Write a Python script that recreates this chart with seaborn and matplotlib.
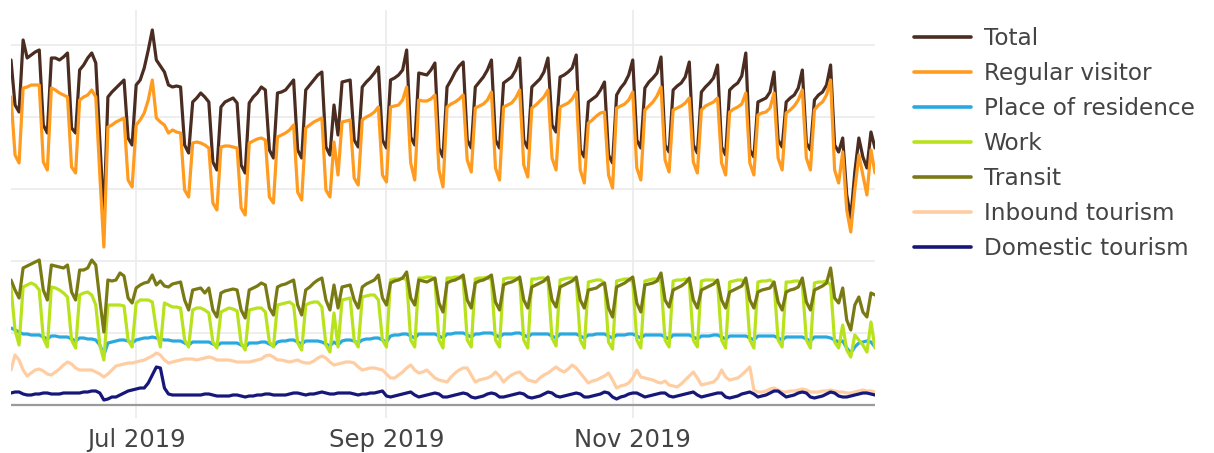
import matplotlib
matplotlib.use("Agg")
import matplotlib.pyplot as plt
from matplotlib.lines import Line2D
import numpy as np
import pandas as pd
import seaborn as sns

# Daily values, 2019-05-31 .. 2019-12-31 (index units, gridline step = 72)
start_date = "2019-05-31"
end_date = "2019-12-31"

total = [
    345, 300, 293,
    365, 347, 350, 353, 355, 280, 272,
    347, 347, 345, 348, 352, 277, 272,
    335, 340, 347, 352, 342, 265, 187,
    308, 313, 317, 321, 325, 267, 260,
    320, 325, 337, 355, 375, 345, 339,
    333, 320, 318, 319, 318, 260, 252,
    303, 307, 312, 308, 303, 243, 235,
    298, 303, 305, 307, 302, 240, 232,
    302, 308, 312, 318, 315, 255, 247,
    312, 313, 315, 320, 325, 255, 247,
    315, 320, 325, 330, 333, 258, 250,
    300, 270, 323, 324, 325, 265, 258,
    318, 323, 327, 332, 338, 265, 257,
    325, 327, 330, 335, 355, 268, 260,
    332, 331, 330, 335, 342, 257, 248,
    318, 325, 333, 339, 343, 265, 257,
    318, 323, 328, 335, 345, 265, 257,
    322, 325, 328, 335, 347, 265, 257,
    318, 322, 326, 333, 347, 280, 273,
    328, 330, 333, 337, 350, 255, 248,
    303, 306, 309, 315, 323, 250, 242,
    310, 317, 322, 330, 345, 265, 257,
    317, 323, 327, 332, 348, 260, 253,
    315, 319, 322, 328, 343, 260, 252,
    313, 318, 322, 327, 340, 258, 250,
    315, 319, 322, 329, 352, 255, 248,
    303, 305, 307, 313, 333, 265, 258,
    303, 307, 310, 317, 335, 262, 255,
    305, 310, 313, 320, 340, 260, 253,
    267, 210, 187, 233, 267, 248, 237,
    273, 257,
]

regular_visitor = [
    308, 250, 242,
    317, 318, 320, 320, 320, 243, 235,
    317, 315, 312, 310, 308, 238, 232,
    305, 308, 310, 315, 308, 230, 158,
    278, 280, 283, 285, 287, 225, 218,
    280, 285, 292, 305, 325, 287, 283,
    280, 272, 275, 273, 272, 215, 208,
    262, 263, 262, 260, 257, 202, 195,
    258, 259, 259, 258, 257, 197, 190,
    262, 264, 266, 267, 265, 208, 202,
    268, 270, 272, 275, 280, 213, 205,
    277, 280, 283, 285, 287, 215, 208,
    263, 230, 283, 284, 285, 227, 220,
    285, 288, 290, 293, 298, 230, 223,
    298, 299, 300, 305, 318, 242, 225,
    305, 304, 304, 306, 310, 235, 218,
    298, 301, 303, 306, 310, 245, 233,
    297, 299, 301, 305, 313, 237, 225,
    298, 300, 302, 307, 315, 240, 228,
    297, 300, 304, 308, 315, 247, 235,
    298, 300, 302, 306, 313, 235, 222,
    282, 285, 289, 292, 293, 230, 217,
    297, 299, 301, 305, 313, 237, 225,
    295, 299, 303, 309, 318, 245, 233,
    295, 297, 299, 302, 307, 243, 232,
    295, 299, 301, 303, 307, 242, 230,
    293, 296, 298, 301, 312, 242, 230,
    290, 292, 293, 297, 312, 247, 235,
    292, 295, 299, 305, 315, 247, 235,
    295, 300, 303, 310, 325, 235, 222,
    253, 195, 173, 215, 250, 230, 210,
    255, 232,
]

place_of_residence = [
    77, 75, 73,
    71, 71, 70, 70, 70, 68, 66,
    69, 69, 68, 68, 68, 66, 64,
    67, 67, 66, 66, 65, 60, 50,
    62, 63, 64, 65, 65, 64, 62,
    65, 66, 67, 67, 68, 67, 66,
    65, 65, 64, 64, 64, 62, 60,
    63, 63, 63, 63, 63, 61, 59,
    62, 62, 62, 62, 62, 60, 58,
    62, 62, 62, 63, 63, 61, 59,
    63, 64, 64, 65, 65, 63, 61,
    64, 64, 64, 64, 63, 61, 59,
    63, 60, 64, 65, 65, 64, 62,
    65, 66, 66, 67, 67, 65, 63,
    69, 70, 70, 71, 71, 69, 67,
    71, 71, 71, 71, 71, 69, 67,
    71, 71, 72, 72, 72, 70, 68,
    71, 71, 72, 72, 72, 70, 68,
    71, 71, 71, 72, 72, 70, 68,
    71, 71, 71, 71, 71, 69, 67,
    71, 71, 71, 71, 71, 69, 67,
    70, 70, 71, 71, 71, 69, 67,
    70, 70, 70, 71, 71, 69, 67,
    70, 70, 70, 70, 70, 68, 66,
    70, 70, 70, 70, 70, 68, 66,
    69, 69, 69, 70, 70, 68, 66,
    69, 69, 69, 69, 69, 67, 65,
    69, 69, 69, 69, 69, 67, 65,
    68, 68, 68, 68, 68, 66, 64,
    68, 68, 68, 68, 67, 65, 63,
    64, 57, 52, 58, 62, 63, 64,
    63, 58,
]

work = [
    118, 75, 60,
    118, 120, 122, 120, 115, 67, 58,
    118, 117, 115, 112, 108, 65, 57,
    110, 112, 113, 110, 100, 60, 45,
    100, 100, 100, 100, 99, 65, 58,
    102, 105, 105, 105, 103, 75, 58,
    102, 100, 98, 98, 97, 65, 58,
    95, 97, 97, 95, 92, 63, 57,
    93, 95, 97, 96, 94, 62, 55,
    95, 96, 97, 97, 93, 63, 58,
    100, 101, 102, 103, 100, 62, 55,
    100, 102, 103, 103, 98, 60, 53,
    92, 58, 105, 106, 107, 65, 58,
    108, 109, 110, 110, 105, 65, 58,
    125, 126, 126, 127, 125, 65, 58,
    127, 127, 128, 128, 126, 65, 57,
    127, 127, 128, 128, 126, 65, 58,
    126, 127, 127, 128, 125, 65, 58,
    126, 127, 127, 127, 125, 65, 57,
    126, 126, 127, 127, 125, 67, 59,
    125, 126, 127, 127, 124, 65, 57,
    123, 124, 125, 125, 122, 63, 56,
    124, 125, 126, 126, 123, 65, 57,
    124, 125, 126, 126, 123, 65, 58,
    124, 125, 125, 126, 123, 65, 58,
    124, 125, 125, 125, 123, 65, 57,
    123, 124, 125, 125, 122, 65, 57,
    123, 124, 124, 125, 122, 65, 58,
    123, 123, 124, 124, 121, 65, 57,
    122, 123, 123, 124, 120, 63, 57,
    80, 55, 48, 70, 65, 60, 53,
    83, 57,
]

transit = [
    125, 115, 107,
    137, 139, 141, 143, 145, 115, 105,
    140, 139, 138, 137, 140, 113, 105,
    135, 135, 137, 145, 140, 105, 73,
    125, 124, 125, 132, 129, 107, 102,
    117, 120, 122, 123, 130, 120, 124,
    119, 118, 121, 122, 123, 105, 95,
    115, 116, 117, 112, 117, 95, 88,
    112, 114, 115, 116, 115, 95, 87,
    115, 117, 119, 122, 120, 97, 90,
    118, 120, 121, 123, 125, 100, 90,
    115, 118, 122, 125, 127, 105, 95,
    120, 97, 118, 119, 120, 105, 97,
    118, 121, 123, 125, 130, 107, 100,
    122, 124, 125, 127, 133, 107, 100,
    125, 124, 123, 125, 127, 102, 93,
    122, 124, 125, 127, 130, 105, 97,
    122, 124, 125, 127, 130, 103, 95,
    120, 122, 123, 125, 128, 105, 97,
    118, 120, 122, 124, 128, 105, 98,
    118, 120, 122, 124, 128, 105, 97,
    115, 116, 117, 120, 122, 97, 88,
    118, 120, 122, 125, 128, 102, 93,
    120, 121, 122, 124, 132, 105, 98,
    115, 117, 119, 122, 127, 105, 97,
    115, 117, 119, 121, 125, 105, 97,
    113, 115, 117, 119, 127, 105, 97,
    113, 115, 116, 117, 123, 103, 95,
    113, 115, 116, 118, 127, 103, 95,
    115, 117, 119, 122, 137, 107, 102,
    117, 85, 75, 100, 108, 93, 88,
    112, 110,
]

inbound_tourism = [
    35, 50, 45,
    35, 29, 32, 35, 36, 34, 31,
    30, 33, 36, 40, 43, 41, 37,
    35, 35, 35, 35, 33, 31, 28,
    31, 35, 39, 40, 41, 42, 42,
    43, 44, 45, 47, 49, 52, 50,
    45, 42, 43, 44, 45, 46, 46,
    46, 45, 46, 47, 48, 47, 45,
    45, 45, 45, 44, 43, 43, 43,
    43, 44, 45, 46, 49, 50, 48,
    45, 45, 44, 43, 44, 45, 43,
    42, 42, 44, 47, 49, 47, 43,
    40, 41, 42, 43, 43, 42, 38,
    35, 36, 37, 37, 36, 35, 31,
    27, 27, 30, 33, 37, 40, 35,
    32, 33, 35, 31, 27, 25, 24,
    23, 28, 32, 35, 37, 37, 30,
    23, 25, 26, 27, 29, 33, 29,
    23, 27, 30, 32, 33, 29, 25,
    24, 23, 27, 30, 32, 35, 38,
    35, 33, 36, 40, 37, 32, 27,
    22, 24, 25, 27, 29, 32, 25,
    17, 19, 20, 22, 27, 35, 28,
    27, 26, 25, 23, 22, 24, 20,
    19, 18, 21, 25, 29, 33, 27,
    20, 21, 22, 23, 27, 35, 28,
    25, 26, 27, 30, 34, 38, 15,
    13, 13, 14, 16, 17, 15, 13,
    13, 14, 14, 15, 16, 15, 13,
    13, 13, 14, 14, 15, 14, 13,
    13, 12, 12, 13, 14, 15, 14,
    14, 13,
]

domestic_tourism = [
    12, 13, 13,
    11, 10, 10, 11, 11, 12, 12,
    11, 11, 11, 12, 12, 12, 12,
    12, 13, 13, 14, 14, 12, 5,
    6, 8, 8, 10, 12, 14, 15,
    16, 17, 17, 22, 30, 38, 37,
    17, 11, 10, 10, 10, 10, 10,
    10, 10, 10, 11, 11, 10, 9,
    9, 9, 9, 10, 10, 9, 8,
    9, 9, 10, 10, 11, 11, 10,
    10, 10, 10, 11, 12, 12, 11,
    10, 11, 11, 12, 13, 12, 11,
    11, 12, 12, 12, 12, 11, 10,
    11, 11, 12, 12, 13, 14, 9,
    8, 9, 10, 11, 12, 13, 10,
    8, 9, 10, 11, 12, 11, 8,
    8, 9, 10, 11, 12, 11, 8,
    7, 8, 9, 11, 12, 11, 8,
    8, 9, 10, 11, 12, 11, 8,
    7, 8, 9, 11, 13, 12, 9,
    8, 9, 10, 11, 12, 11, 8,
    8, 9, 10, 11, 13, 12, 8,
    6, 8, 9, 11, 12, 12, 10,
    8, 9, 10, 11, 12, 12, 9,
    8, 9, 10, 11, 12, 13, 10,
    8, 9, 10, 11, 12, 12, 8,
    7, 8, 9, 11, 12, 13, 11,
    8, 9, 10, 12, 14, 14, 11,
    8, 9, 10, 12, 13, 12, 8,
    7, 8, 9, 11, 13, 12, 9,
    8, 8, 9, 10, 11, 12, 12,
    11, 10,
]

series_names = ["Total", "Regular visitor", "Place of residence", "Work",
                "Transit", "Inbound tourism", "Domestic tourism"]
series_colors = ["#4a2c21", "#ff9b1e", "#2aa9e0", "#b8e21c",
                 "#7a7a14", "#ffcda2", "#17177a"]
tick_dates = ["2019-07-01", "2019-09-01", "2019-11-01"]
tick_labels = ["Jul 2019", "Sep 2019", "Nov 2019"]
grid_values = [72, 144, 216, 288, 360]

dates = pd.date_range(start_date, end_date, freq="D")
values = [total, regular_visitor, place_of_residence, work, transit,
          inbound_tourism, domestic_tourism]
for v in values:
    assert len(v) == len(dates), (len(v), len(dates))

df = pd.DataFrame({"date": dates})
for name, v in zip(series_names, values):
    df[name] = v
long_df = df.melt(id_vars="date", var_name="series", value_name="value")

sns.set_theme(style="white")
plt.rcParams["font.family"] = ["DejaVu Sans"]

W, H = 1214, 453
fig = plt.figure(figsize=(W / 100, H / 100), dpi=100)
ax = fig.add_axes([11 / W, 1 - 418 / H, (875 - 11) / W, (418 - 10) / H])

sns.lineplot(data=long_df, x="date", y="value", hue="series",
             hue_order=series_names, palette=series_colors,
             linewidth=2.3, ax=ax, legend=False)

ax.set_xlim(dates[0], dates[-1])
ax.set_ylim(-13, 395)
ax.set_xticks(pd.to_datetime(tick_dates))
ax.set_xticklabels(tick_labels)
ax.set_yticks(grid_values)
ax.set_yticklabels([])
ax.set_xlabel("")
ax.set_ylabel("")
ax.grid(True, color="#ebebeb", linewidth=1.2, zorder=0)
ax.set_axisbelow(True)
for s in ax.spines.values():
    s.set_visible(False)
ax.axhline(0, color="#9a9a9a", linewidth=1.6, zorder=1)
ax.tick_params(axis="x", length=0, pad=7, labelsize=17.5, labelcolor="#444444")
ax.tick_params(axis="y", length=0)

handles = [Line2D([0], [0], color=c, lw=2.6) for c in series_colors]
leg = fig.legend(handles, series_names, loc="upper left",
                 bbox_to_anchor=(914 / W, 1 - 27 / H),
                 frameon=False, fontsize=16.7, handlelength=2.45,
                 handletextpad=0.55, labelspacing=0.52,
                 borderpad=0, borderaxespad=0)
for t in leg.get_texts():
    t.set_color("#444444")

fig.savefig("out.png", dpi=100)
